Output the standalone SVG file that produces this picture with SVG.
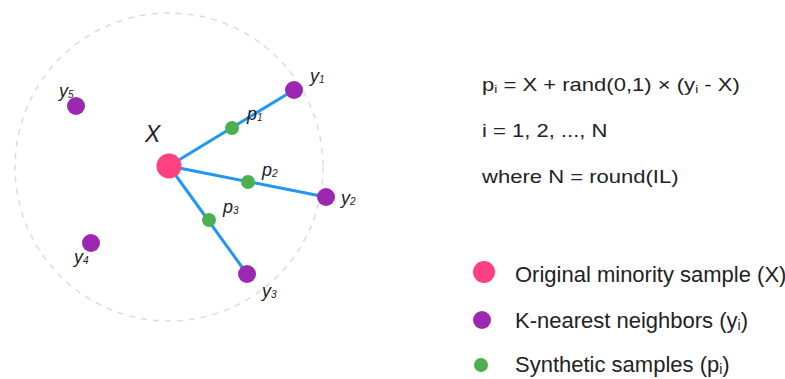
<svg xmlns="http://www.w3.org/2000/svg" width="785" height="379" viewBox="0 0 785 379">
<style>
.lbl{font-family:"Liberation Sans",Arial,sans-serif;font-style:italic;font-size:18px;fill:#222}
.sub{font-size:10px}
.txt{font-family:"Liberation Sans",Arial,sans-serif;font-size:17.5px;fill:#222}
.leg{font-family:"Liberation Sans",Arial,sans-serif;font-size:22px;fill:#222}
.tsub{font-size:11px}
.lsub{font-size:14px}
.edge{stroke:#2196f3;stroke-width:3;stroke-linecap:round;fill:none}
.x{fill:#ff4081}
.y{fill:#9c27b0}
.p{fill:#4caf50}
</style>
<rect width="785" height="379" fill="#fff"/>
<circle cx="169" cy="167" r="154" fill="none" stroke="#dcdcdc" stroke-width="1.5" stroke-dasharray="6,6"/>
<g id="connectors">
<line class="edge" x1="169" y1="166" x2="294" y2="90"/>
<line class="edge" x1="169" y1="166" x2="326" y2="197"/>
<line class="edge" x1="169" y1="166" x2="247" y2="274"/>
</g>
<g id="nodeX"><circle class="x" cx="169" cy="166" r="12.5"/><text class="lbl" x="145" y="142" style="font-size:23px">X</text></g>
<g id="y1"><circle class="y" cx="294" cy="90" r="9"/><text class="lbl" x="310" y="82">y<tspan class="sub" dy="1">1</tspan></text></g>
<g id="y2"><circle class="y" cx="326" cy="197" r="9"/><text class="lbl" x="341" y="204">y<tspan class="sub" dy="1">2</tspan></text></g>
<g id="y3"><circle class="y" cx="247" cy="274" r="9"/><text class="lbl" x="262" y="297">y<tspan class="sub" dy="1">3</tspan></text></g>
<g id="y4"><circle class="y" cx="91" cy="243" r="9"/><text class="lbl" x="74" y="263">y<tspan class="sub" dy="1">4</tspan></text></g>
<g id="y5"><circle class="y" cx="76" cy="106" r="9"/><text class="lbl" x="59" y="97">y<tspan class="sub" dy="1">5</tspan></text></g>
<g id="p1"><circle class="p" cx="232" cy="128" r="7"/><text class="lbl" x="247" y="120">p<tspan class="sub" dy="1">1</tspan></text></g>
<g id="p2"><circle class="p" cx="248" cy="182" r="7"/><text class="lbl" x="262" y="176">p<tspan class="sub" dy="1">2</tspan></text></g>
<g id="p3"><circle class="p" cx="209" cy="220" r="7"/><text class="lbl" x="223" y="213">p<tspan class="sub" dy="1">3</tspan></text></g>
<g id="formula">
<text class="txt" transform="translate(482,91) scale(1.26,1)">p<tspan class="tsub" dy="2">i</tspan><tspan dy="-2"> = X + rand(0,1) × (y</tspan><tspan class="tsub" dy="2">i</tspan><tspan dy="-2"> - X)</tspan></text>
<text class="txt" transform="translate(482,137) scale(1.26,1)">i = 1, 2, ..., N</text>
<text class="txt" transform="translate(482,183) scale(1.26,1)">where N = round(IL)</text>
</g>
<g id="legend">
<circle class="x" cx="484" cy="272" r="11"/>
<text class="leg" x="515" y="282">Original minority sample (X)</text>
<circle class="y" cx="482" cy="320" r="9"/>
<text class="leg" x="515" y="328">K-nearest neighbors (y<tspan class="lsub" dy="2">i</tspan><tspan dy="-2">)</tspan></text>
<circle class="p" cx="481" cy="365" r="7"/>
<text class="leg" x="515" y="372">Synthetic samples (p<tspan class="lsub" dy="2">i</tspan><tspan dy="-2">)</tspan></text>
</g>
</svg>
